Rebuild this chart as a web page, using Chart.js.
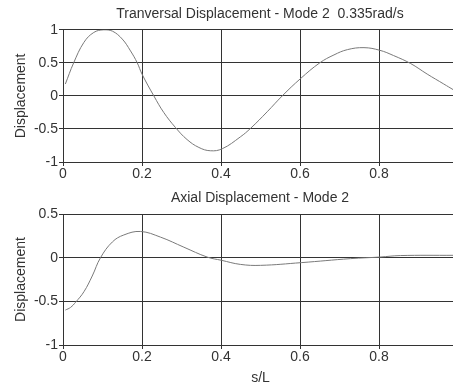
<!DOCTYPE html>
<html>
<head>
<meta charset="utf-8">
<script src="https://cdn.jsdelivr.net/npm/chart.js@4.4.1/dist/chart.umd.min.js"></script>
<style>
  html, body { margin: 0; padding: 0; background: #fff; overflow: hidden; }
  .box { position: absolute; left: 0; width: 520px; }
  #box1 { top: 0; height: 190px; }
  #box2 { top: 190px; height: 195px; }
</style>
</head>
<body>
<div class="box" id="box1"><canvas id="transChart" width="520" height="190"></canvas></div>
<div class="box" id="box2"><canvas id="axialChart" width="520" height="195"></canvas></div>
<script>
// s/L positions and displacement values
const transS = [0.006, 0.027, 0.053, 0.078, 0.103, 0.125, 0.15, 0.171, 0.188, 0.2, 0.23, 0.255, 0.285, 0.314, 0.344, 0.373, 0.403, 0.449, 0.475, 0.517, 0.555, 0.601, 0.65, 0.686, 0.72, 0.762, 0.802, 0.837, 0.88, 0.922, 0.964, 0.989];
const transDisp = [0.18, 0.5, 0.81, 0.96, 1.0, 0.98, 0.86, 0.68, 0.5, 0.33, 0.0, -0.25, -0.48, -0.66, -0.78, -0.83, -0.8, -0.62, -0.49, -0.24, 0.0, 0.26, 0.5, 0.62, 0.7, 0.73, 0.69, 0.61, 0.49, 0.33, 0.18, 0.09];

const axialS = [0.006, 0.019, 0.032, 0.053, 0.074, 0.095, 0.125, 0.154, 0.196, 0.247, 0.306, 0.365, 0.401, 0.449, 0.5, 0.603, 0.728, 0.802, 0.854, 0.989];
const axialDisp = [-0.6, -0.57, -0.51, -0.39, -0.21, 0.0, 0.18, 0.26, 0.3, 0.235, 0.12, 0.007, -0.03, -0.077, -0.088, -0.057, -0.011, 0.007, 0.024, 0.027];

const xTicks = [0, 0.2, 0.4, 0.6, 0.8, 1];
const yTicksTrans = [-1, -0.5, 0, 0.5, 1];
const yTicksAxial = [-1, -0.5, 0, 0.5];

const textColor = '#333';
const gridColor = '#333';
const fontFamily = "'Liberation Sans', Arial, sans-serif";

Chart.defaults.font.family = fontFamily;
Chart.defaults.font.size = 14;
Chart.defaults.color = textColor;

function makeChart(id, xs, ys, yTicks, yMin, yMax, titleText, titlePad, xAxisHeight, xTitle) {
    const points = xs.map((x, i) => ({ x: x, y: ys[i] }));
    return new Chart(document.getElementById(id), {
        type: 'line',
        data: {
            datasets: [{
                data: points,
                borderColor: '#7a7a7a',
                borderWidth: 1,
                pointRadius: 0,
                fill: false,
                tension: 0.4
            }]
        },
        options: {
            responsive: false,
            animation: false,
            layout: { padding: 0 },
            plugins: {
                legend: { display: false },
                tooltip: { enabled: false },
                title: {
                    display: true,
                    text: titleText,
                    color: textColor,
                    font: { size: 14, weight: 'normal' },
                    padding: titlePad
                }
            },
            scales: {
                x: {
                    type: 'linear',
                    min: 0,
                    max: 1,
                    afterBuildTicks: s => { s.ticks = xTicks.map(v => ({ value: v })); },
                    afterFit: s => { s.height = xAxisHeight; },
                    ticks: { padding: 0, color: textColor, callback: v => (v === 1 ? '' : String(v)) },
                    grid: { color: gridColor, tickLength: 4, tickColor: gridColor },
                    border: { color: gridColor },
                    title: xTitle ? {
                        display: true,
                        text: xTitle,
                        color: textColor,
                        font: { size: 14, lineHeight: 1 },
                        padding: 0
                    } : { display: false }
                },
                y: {
                    min: yMin,
                    max: yMax,
                    afterBuildTicks: s => { s.ticks = yTicks.map(v => ({ value: v })); },
                    afterFit: s => { s.width = 63; },
                    ticks: { padding: 1, color: textColor, callback: v => String(v) },
                    grid: { color: gridColor, tickLength: 4, tickColor: gridColor },
                    border: { color: gridColor },
                    title: {
                        display: true,
                        text: 'Displacement',
                        color: textColor,
                        font: { size: 14 },
                        padding: { top: 13, bottom: 0 }
                    }
                },
                // empty right axis so the plot box runs past the window edge like the original
                yRight: {
                    position: 'right',
                    min: yMin,
                    max: yMax,
                    afterFit: s => { s.width = 62; },
                    ticks: { display: false },
                    grid: { display: false },
                    border: { display: false }
                }
            }
        }
    });
}

makeChart('transChart', transS, transDisp, yTicksTrans, -1, 1,
    'Tranversal Displacement - Mode 2  0.335rad/s', { top: 6, bottom: 7 }, 28, null);
makeChart('axialChart', axialS, axialDisp, yTicksAxial, -1, 0.5,
    'Axial Displacement - Mode 2', { top: 0, bottom: 7.2 }, 40, 's/L');
</script>
</body>
</html>
